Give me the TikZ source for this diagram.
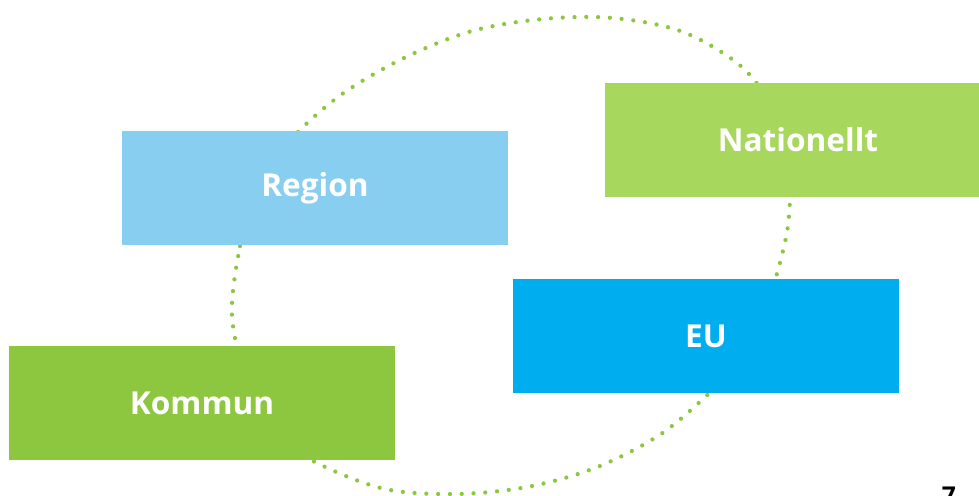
\documentclass[tikz,border=0pt]{standalone}
\usepackage{fontspec}
\setmainfont{Open Sans}
\definecolor{regionblue}{RGB}{135,206,241}
\definecolor{eublue}{RGB}{0,174,239}
\definecolor{kommungreen}{RGB}{141,198,63}
\definecolor{natgreen}{RGB}{168,215,94}
\begin{document}
\begin{tikzpicture}[x=0.02cm, y=-0.02cm,
    level/.style={minimum width=7.72cm, minimum height=2.28cm, inner sep=0pt,
                  text=white, font=\bfseries\fontsize{18}{22}\selectfont},
    ring/.style={draw=kommungreen, line width=0.085cm, line cap=round,
                 dash pattern=on 0pt off 0.236cm}]
    \useasboundingbox (0,0) rectangle (979,495);

    % dotted ring behind the boxes
    \draw[ring] plot[smooth cycle, tension=0.55] coordinates {
        (232,316) (240,246) (252,205) (272,165) (300,130) (345,92) (406,57)
        (472,31) (543,19) (613,18) (683,32) (743,68) (778,118) (789,160)
        (790,196) (787,232) (776,277) (760,325) (735,365) (704,398) (658,436)
        (595,468) (527,487) (456,494) (385,489) (319,464) (275,435) (248,385)};

    \node[level, fill=regionblue]  (region)     at (315,188) {Region};
    \node[level, fill=natgreen]    (nationellt) at (798,140) {Nationellt};
    \node[level, fill=eublue]      (eu)         at (706,336) {EU};
    \node[level, fill=kommungreen] (kommun)     at (202,403) {Kommun};

    \node[anchor=north, inner sep=0pt, font=\bfseries\fontsize{14}{16}\selectfont] (page) at (949,487) {7};
\end{tikzpicture}
\end{document}
